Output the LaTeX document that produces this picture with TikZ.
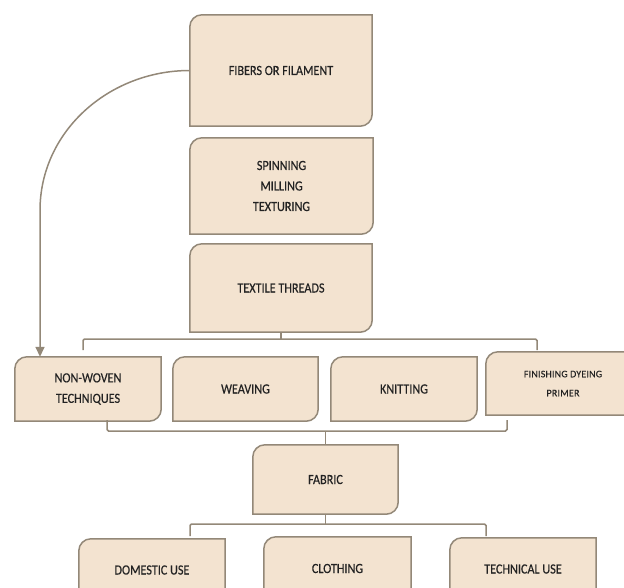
\documentclass[tikz,border=0pt]{standalone}
\usepackage{fontspec}
\usepackage{tikz}
\usetikzlibrary{arrows.meta,backgrounds}

\newfontfamily\boxfont[FakeStretch=0.87,FakeBold=0.4]{Carlito}
\newfontfamily\smallboxfont[LetterSpace=2,FakeBold=0.4]{Carlito}
\definecolor{boxfill}{HTML}{F3E3D0}
\definecolor{boxline}{HTML}{938878}
\definecolor{boxtext}{HTML}{222222}

\begin{document}
\begin{tikzpicture}[x=1pt, y=-1pt,
	stage/.style = {align=center, inner sep=0pt, text=boxtext,
			font=\boxfont\fontsize{14}{20.5}\selectfont},
	boxshape/.style = {fill=boxfill, draw=boxline, line width=1.5pt},
	link/.style = {draw=boxline, line width=1.5pt, rounded corners=1.5pt}]
			\useasboundingbox (0,0) rectangle (624,587);
			% stages
			\node[stage, minimum width=182pt, minimum height=111pt] (fiber) at (281,70.5) {FIBERS OR FILAMENT};
			\node[stage, minimum width=183pt, minimum height=96pt] (spin) at (281.5,186) {SPINNING\\MILLING\\TEXTURING};
			\node[stage, minimum width=182pt, minimum height=88pt] (thread) at (281,288) {TEXTILE THREADS};
			\node[stage, minimum width=146pt, minimum height=64pt] (nonwoven) at (88,389) {NON-WOVEN\\TECHNIQUES};
			\node[stage, minimum width=145pt, minimum height=64pt] (weave) at (245.5,389) {WEAVING};
			\node[stage, minimum width=146pt, minimum height=64pt] (knit) at (404,389) {KNITTING};
			\node[stage, minimum width=154pt, minimum height=63pt,
				font=\smallboxfont\fontsize{10}{19}\selectfont] (finish) at (563,383.5) {FINISHING DYEING\\PRIMER};
			\node[stage, minimum width=145pt, minimum height=69pt] (fabric) at (325.5,479.5) {FABRIC};
			\node[stage, minimum width=146pt, minimum height=62pt] (domestic) at (152,570) {DOMESTIC USE};
			\node[stage, minimum width=147pt, minimum height=63pt] (clothing) at (337.5,568.5) {CLOTHING};
			\node[stage, minimum width=146pt, minimum height=62pt] (technical) at (523,569) {TECHNICAL USE};
			% boxes with two rounded corners
			\begin{scope}[on background layer]
				\foreach \n in {fiber,spin,thread,nonwoven,weave,knit,finish,fabric,domestic,clothing,technical}
					\path[boxshape] (\n.south west) [rounded corners=12pt] -- (\n.north west) [sharp corners] -- (\n.north east)
						[rounded corners=12pt] -- (\n.south east) [sharp corners] -- cycle;
			\end{scope}
			% brackets
			\coordinate (topbar) at (281,339);
			\coordinate (t1) at (83,350);
			\coordinate (t2) at (537,350);
			\draw[link] (thread.south) -- (topbar);
			\draw[link] (t1) |- (topbar) -| (t2);
			\coordinate (midbar) at (325.5,431);
			\coordinate (m1) at (107,420);
			\coordinate (m2) at (507,420);
			\draw[link] (m1) |- (midbar) -| (m2);
			\draw[link] (midbar) -- (fabric.north);
			\coordinate (lowbar) at (325.5,524);
			\coordinate (l1) at (190,536);
			\coordinate (l2) at (486,536);
			\draw[link] (fabric.south) -- (lowbar);
			\draw[link] (l1) |- (lowbar) -| (l2);
			% fibers straight to non-woven
			\coordinate (bend) at (40,212);
			\draw[link, -{Triangle[width=9pt,length=10pt]}] (fiber.west) to[out=180,in=90] (bend)
				-- (bend |- nonwoven.north);
\end{tikzpicture}
\end{document}
